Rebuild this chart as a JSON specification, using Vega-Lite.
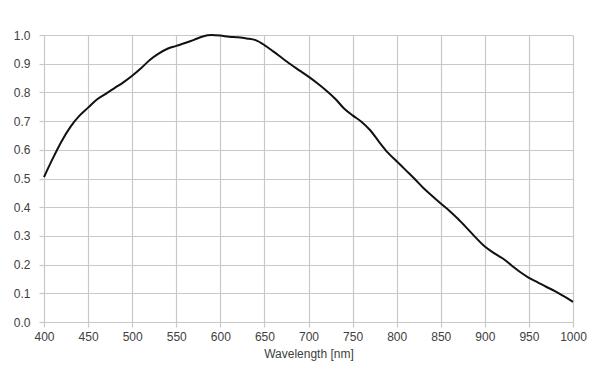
{
  "$schema": "https://vega.github.io/schema/vega-lite/v6.json",
  "autosize": "none",
  "width": 529,
  "height": 287,
  "padding": {"left": 44, "top": 35, "right": 27, "bottom": 57},
  "background": "white",
  "config": {
    "view": {"stroke": null},
    "font": "Liberation Sans",
    "axis": {
      "gridColor": "#c8c8c8",
      "gridOpacity": 1,
      "gridWidth": 1.2,
      "tickColor": "#c8c8c8",
      "tickWidth": 1.2,
      "domain": false,
      "labelColor": "#404040",
      "labelFontSize": 12,
      "titleColor": "#404040",
      "titleFontSize": 12,
      "titleFontWeight": "normal"
    }
  },
  "data": {
    "values": [
      {"nm": 400, "v": 0.505},
      {"nm": 410, "v": 0.57},
      {"nm": 420, "v": 0.63},
      {"nm": 430, "v": 0.68},
      {"nm": 440, "v": 0.718},
      {"nm": 450, "v": 0.747},
      {"nm": 460, "v": 0.775},
      {"nm": 470, "v": 0.795},
      {"nm": 480, "v": 0.815},
      {"nm": 490, "v": 0.835},
      {"nm": 500, "v": 0.858},
      {"nm": 510, "v": 0.884},
      {"nm": 520, "v": 0.913},
      {"nm": 530, "v": 0.935},
      {"nm": 540, "v": 0.952},
      {"nm": 550, "v": 0.962},
      {"nm": 560, "v": 0.972},
      {"nm": 570, "v": 0.983},
      {"nm": 580, "v": 0.995},
      {"nm": 590, "v": 1.0},
      {"nm": 600, "v": 0.998},
      {"nm": 610, "v": 0.994},
      {"nm": 620, "v": 0.992},
      {"nm": 630, "v": 0.988},
      {"nm": 640, "v": 0.982},
      {"nm": 650, "v": 0.965},
      {"nm": 660, "v": 0.943},
      {"nm": 670, "v": 0.92},
      {"nm": 680, "v": 0.897},
      {"nm": 690, "v": 0.876},
      {"nm": 700, "v": 0.855},
      {"nm": 710, "v": 0.832},
      {"nm": 720, "v": 0.807},
      {"nm": 730, "v": 0.779},
      {"nm": 740, "v": 0.745},
      {"nm": 750, "v": 0.72},
      {"nm": 760, "v": 0.698},
      {"nm": 770, "v": 0.668},
      {"nm": 780, "v": 0.628},
      {"nm": 790, "v": 0.59},
      {"nm": 800, "v": 0.56},
      {"nm": 810, "v": 0.53},
      {"nm": 820, "v": 0.5},
      {"nm": 830, "v": 0.468},
      {"nm": 840, "v": 0.44},
      {"nm": 850, "v": 0.413},
      {"nm": 860, "v": 0.387},
      {"nm": 870, "v": 0.358},
      {"nm": 880, "v": 0.326},
      {"nm": 890, "v": 0.293},
      {"nm": 900, "v": 0.263},
      {"nm": 910, "v": 0.241},
      {"nm": 920, "v": 0.222},
      {"nm": 930, "v": 0.198},
      {"nm": 940, "v": 0.174},
      {"nm": 950, "v": 0.154},
      {"nm": 960, "v": 0.138},
      {"nm": 970, "v": 0.122},
      {"nm": 980, "v": 0.107},
      {"nm": 990, "v": 0.089},
      {"nm": 1000, "v": 0.07}
    ]
  },
  "mark": {"type": "line", "color": "#111111", "strokeWidth": 2, "interpolate": "monotone"},
  "encoding": {
    "x": {
      "field": "nm",
      "type": "quantitative",
      "scale": {"domain": [400, 1000], "nice": false, "zero": false},
      "axis": {"values": [400, 450, 500, 550, 600, 650, 700, 750, 800, 850, 900, 950, 1000], "format": "d", "title": "Wavelength [nm]", "tickSize": 5, "labelPadding": 4, "titlePadding": 6, "labelFlush": false}
    },
    "y": {
      "field": "v",
      "type": "quantitative",
      "scale": {"domain": [0, 1], "nice": false},
      "axis": {"values": [0, 0.1, 0.2, 0.3, 0.4, 0.5, 0.6, 0.7, 0.8, 0.9, 1.0], "format": ".1f", "title": null, "tickSize": 5, "labelPadding": 9, "labelFlush": false}
    }
  }
}
